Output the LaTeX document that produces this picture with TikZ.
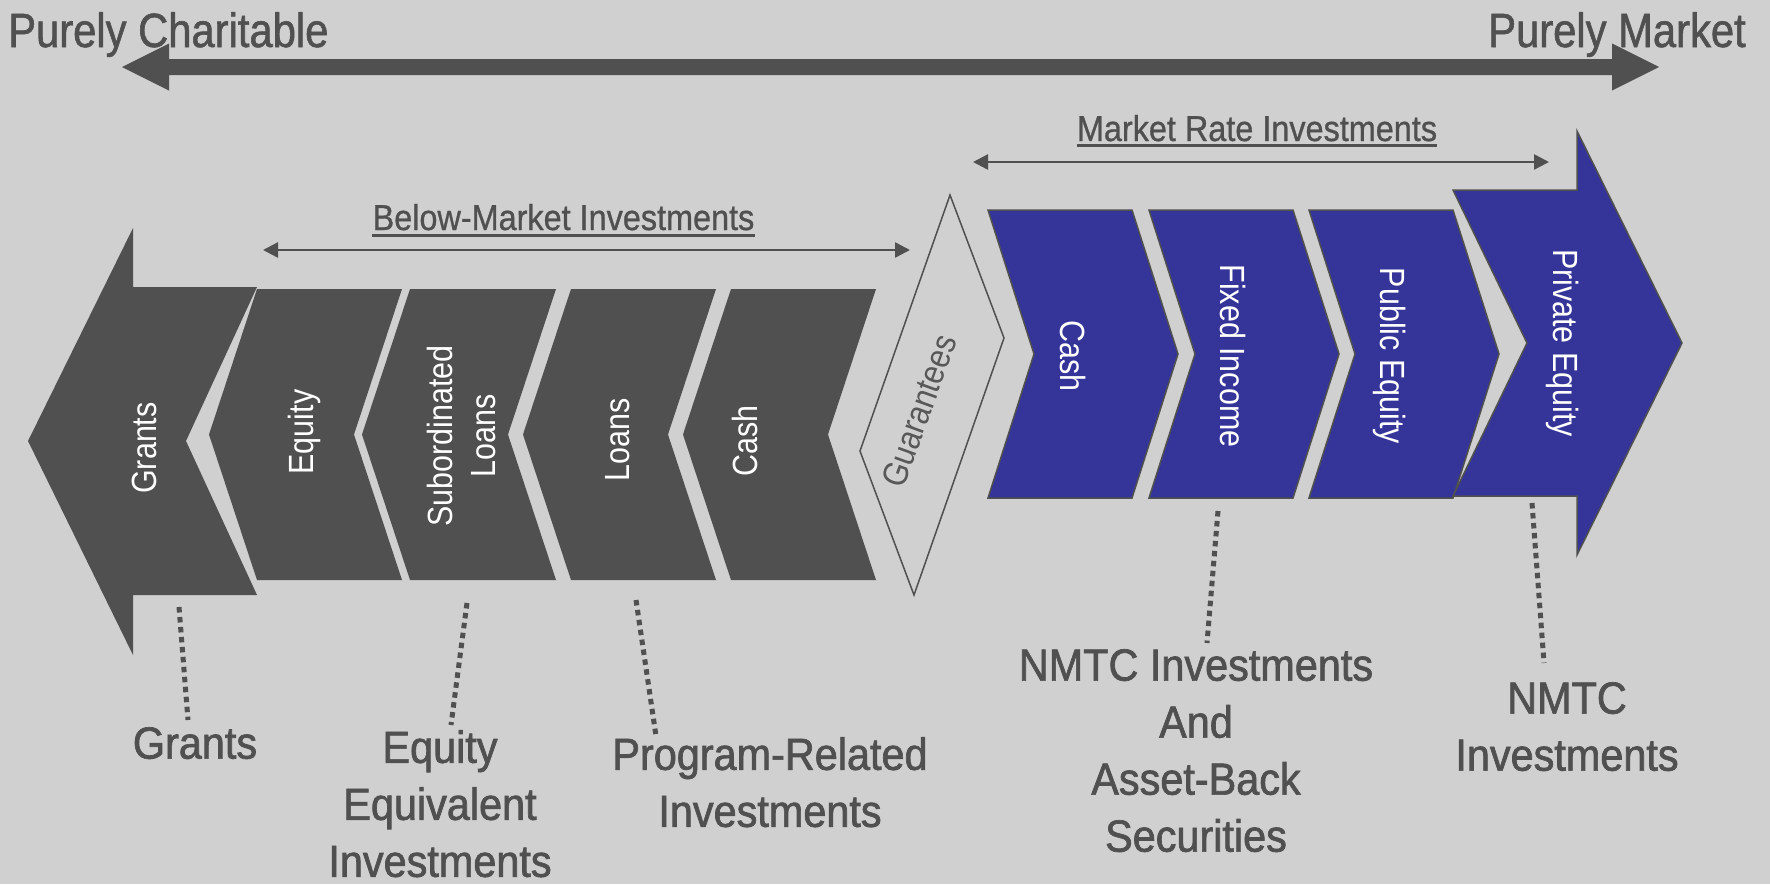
\documentclass[tikz,border=0pt]{standalone}
\usepackage{fontspec}
\setmainfont{Liberation Sans}
\newfontfamily\ftop[FakeStretch=0.87,FakeBold=1.2]{Liberation Sans}
\newfontfamily\fspan[FakeStretch=0.90,FakeBold=0.8]{Liberation Sans}
\newfontfamily\fout[FakeStretch=0.92,FakeBold=1.5]{Liberation Sans}
\newfontfamily\finner[FakeStretch=0.87]{Liberation Sans}
\usetikzlibrary{arrows.meta}
\definecolor{bg}{RGB}{208,208,208}
\definecolor{ink}{RGB}{80,80,80}
\definecolor{softink}{RGB}{88,88,88}
\definecolor{navy}{RGB}{52,52,153}
\begin{document}
\begin{tikzpicture}[x=1pt,y=-1pt,
  darkpiece/.style={fill=ink},
  bluepiece/.style={fill=navy, draw=ink, line width=1.5pt, line join=miter},
  toplabel/.style={text=ink, inner sep=0pt, font=\ftop\fontsize{48}{48}\selectfont},
  spanlabel/.style={text=ink, inner sep=0pt, anchor=base, font=\fspan\fontsize{36}{36}\selectfont},
  inlabel/.style={text=white, inner sep=0pt, align=center, font=\finner\fontsize{35}{43}\selectfont},
  outlabel/.style={text=ink, inner sep=0pt, align=center, anchor=north, font=\fout\fontsize{45}{57}\selectfont},
  leader/.style={draw=ink, line width=5pt, dash pattern=on 5.5pt off 4.5pt},
  span/.style={draw=ink, line width=2.5pt, {Triangle[length=15pt,width=15pt]}-{Triangle[length=15pt,width=15pt]}},
  underline/.style={draw=ink, line width=3pt}
]
% canvas
\fill[bg] (0,0) rectangle (1770,884);
\useasboundingbox (0,0) rectangle (1770,884);

% charitable <-> market scale
\fill[ink] (122,67) -- (169,43.5) -- (169,59) -- (1612,59) -- (1612,43.5) -- (1659,67)
  -- (1612,90.5) -- (1612,75) -- (169,75) -- (169,90.5) -- cycle;
\node[toplabel, anchor=base west] (charitable) at (8,47) {Purely Charitable};
\node[toplabel, anchor=base east] (market) at (1746,47) {Purely Market};

% span brackets
\coordinate (bmL) at (263,250);
\coordinate (bmR) at (910,250);
\draw[span] (bmL) -- (bmR);
\node[spanlabel] (bm) at (563.5,230) {Below-Market Investments};
\draw[underline] ([yshift=-5.5pt]bm.base west) -- ([yshift=-5.5pt]bm.base east);

\coordinate (mrL) at (973,162);
\coordinate (mrR) at (1549,162);
\draw[span] (mrL) -- (mrR);
\node[spanlabel] (mr) at (1257,141) {Market Rate Investments};
\draw[underline] ([yshift=-4pt]mr.base west) -- ([yshift=-4pt]mr.base east);

% grants arrow
\fill[ink] (28,441) -- (133,228) -- (133,287) -- (257,287) -- (186,441) -- (257,595)
  -- (133,595) -- (133,655) -- cycle;
\node[inlabel, rotate=90] (tgrants) at (144,448) {Grants};

% below-market chevrons
\foreach \L/\R in {257/402, 410/556, 571/716, 731/876}
  \fill[ink] (\L,289) -- (\R,289) -- ({\R-48},434.5) -- (\R,580) -- (\L,580) -- ({\L-48},434.5) -- cycle;
\node[inlabel, rotate=90] (tequity) at (304,432) {Equity};
\node[inlabel, rotate=90] (tsub) at (461,436) {Subordinated\\Loans};
\node[inlabel, rotate=90] (tloans) at (618,440) {Loans};
\node[inlabel, rotate=90] (tcashl) at (745,441) {Cash};

% guarantees
\draw[ink, line width=1.5pt, line join=miter] (950,195) -- (1004,338) -- (914,595) -- (860,451) -- cycle;
\node[inlabel, text=softink, rotate=70] (tguar) at (919,411) {Guarantees};

% market-rate chevrons
\foreach \L/\R in {988/1132, 1149/1293, 1309/1453}
  \filldraw[bluepiece] (\L,210) -- (\R,210) -- ({\R+46},354) -- (\R,498) -- (\L,498) -- ({\L+46},354) -- cycle;
\filldraw[bluepiece] (1453,190) -- (1577,190) -- (1577,131) -- (1682,343) -- (1577,555)
  -- (1577,496) -- (1453,496) -- (1527,343) -- cycle;
\node[inlabel, rotate=-90] (tcashr) at (1073,356) {Cash};
\node[inlabel, rotate=-90] (tfixed) at (1233,356) {Fixed Income};
\node[inlabel, rotate=-90] (tpublic) at (1390,356) {Public Equity};
\node[inlabel, rotate=-90] (tprivate) at (1563,343) {Private Equity};

% outcome labels
\node[outlabel] (lgrants) at (195,727) {Grants};
\node[outlabel] (leei) at (440,730) {Equity\\Equivalent\\Investments};
\node[outlabel] (lpri) at (770,737) {Program-Related\\Investments};
\node[outlabel] (lnmtcabs) at (1196,649) {NMTC Investments\\And\\Asset-Back\\Securities};
\node[outlabel] (lnmtc) at (1567,682) {NMTC\\Investments};

% dotted leaders
\coordinate (g1) at (179,607);  \coordinate (g2) at (188,720);
\coordinate (e1) at (467,603);  \coordinate (e2) at (451,725);
\coordinate (p1) at (636,600);  \coordinate (p2) at (656,736);
\coordinate (a1) at (1218,511); \coordinate (a2) at (1207,643);
\coordinate (n1) at (1532,503); \coordinate (n2) at (1544,663);
\draw[leader] (g1) -- (g2);
\draw[leader] (e1) -- (e2);
\draw[leader] (p1) -- (p2);
\draw[leader] (a1) -- (a2);
\draw[leader] (n1) -- (n2);
\end{tikzpicture}
\end{document}
